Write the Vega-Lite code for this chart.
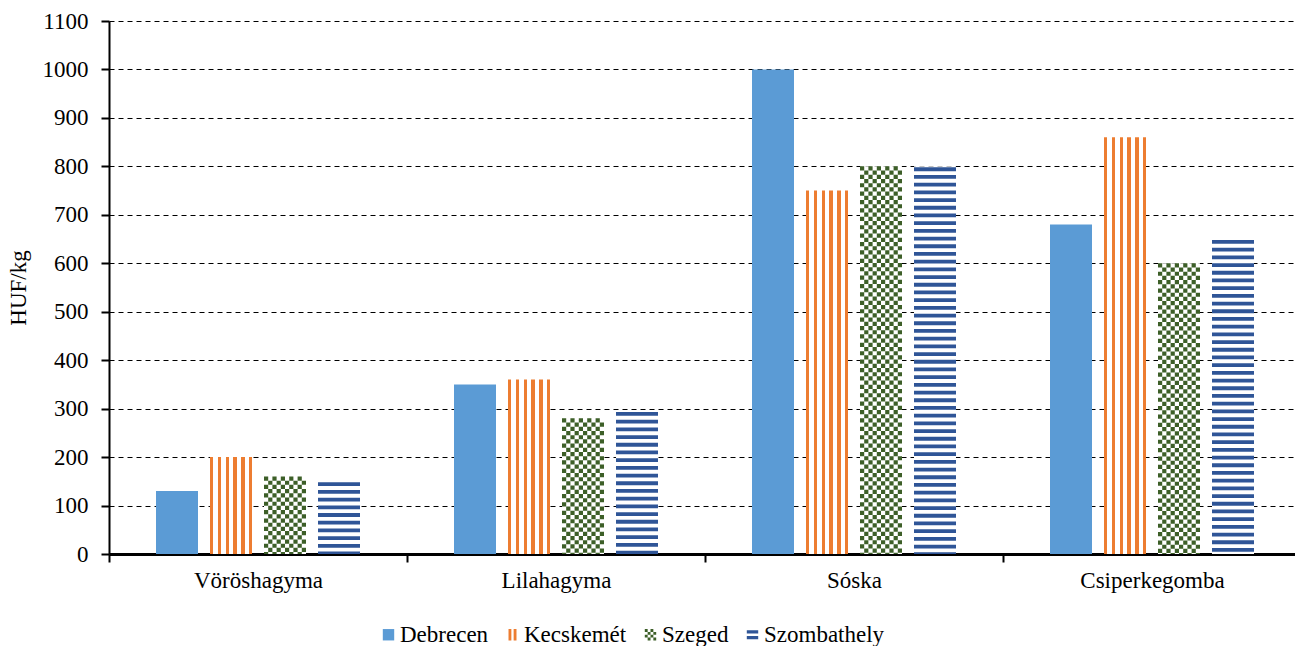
{
  "$schema": "https://vega.github.io/schema/vega-lite/v6.json",
  "width": 1192,
  "height": 533,
  "autosize": {"type": "none"},
  "padding": {"left": 109, "top": 21, "right": 0, "bottom": 92},
  "background": "white",
  "config": {
    "font": "Liberation Serif, Times New Roman, serif",
    "view": {"stroke": null},
    "axis": {"labelFont": "Liberation Serif, Times New Roman, serif", "titleFont": "Liberation Serif, Times New Roman, serif", "labelColor": "black", "titleColor": "black"},
    "legend": {"labelFont": "Liberation Serif, Times New Roman, serif"}
  },
  "data": {
    "values": [
      {"termek": "Vöröshagyma", "varos": "Debrecen", "ar": 130},
      {"termek": "Vöröshagyma", "varos": "Kecskemét", "ar": 200},
      {"termek": "Vöröshagyma", "varos": "Szeged", "ar": 160},
      {"termek": "Vöröshagyma", "varos": "Szombathely", "ar": 150},
      {"termek": "Lilahagyma", "varos": "Debrecen", "ar": 350},
      {"termek": "Lilahagyma", "varos": "Kecskemét", "ar": 360},
      {"termek": "Lilahagyma", "varos": "Szeged", "ar": 280},
      {"termek": "Lilahagyma", "varos": "Szombathely", "ar": 295},
      {"termek": "Sóska", "varos": "Debrecen", "ar": 1000},
      {"termek": "Sóska", "varos": "Kecskemét", "ar": 750},
      {"termek": "Sóska", "varos": "Szeged", "ar": 800},
      {"termek": "Sóska", "varos": "Szombathely", "ar": 800},
      {"termek": "Csiperkegomba", "varos": "Debrecen", "ar": 680},
      {"termek": "Csiperkegomba", "varos": "Kecskemét", "ar": 860},
      {"termek": "Csiperkegomba", "varos": "Szeged", "ar": 600},
      {"termek": "Csiperkegomba", "varos": "Szombathely", "ar": 650}
    ]
  },
  "encoding": {
    "x": {
      "field": "termek", "type": "nominal",
      "sort": ["Vöröshagyma", "Lilahagyma", "Sóska", "Csiperkegomba"],
      "scale": {"paddingInner": 0, "paddingOuter": 0},
      "axis": {
        "title": null, "labelAngle": 0, "labelFontSize": 23, "labelPadding": 7,
        "labelFont": "Liberation Serif, Times New Roman, serif",
        "tickBand": "extent", "tickSize": 8, "tickWidth": 2, "tickColor": "black",
        "domainColor": "black", "domainWidth": 3, "grid": false
      }
    },
    "y": {
      "field": "ar", "type": "quantitative",
      "scale": {"domain": [0, 1100], "nice": false},
      "axis": {
        "title": "HUF/kg", "titleFontSize": 23, "titleFontWeight": "normal", "titlePadding": 12,
        "titleFont": "Liberation Serif, Times New Roman, serif",
        "labelFont": "Liberation Serif, Times New Roman, serif",
        "format": "d",
        "values": [0, 100, 200, 300, 400, 500, 600, 700, 800, 900, 1000, 1100],
        "labelFontSize": 23, "labelPadding": 13,
        "tickSize": 8, "tickWidth": 2, "tickColor": "black",
        "domainColor": "black", "domainWidth": 2,
        "grid": true, "gridColor": "black", "gridDash": [5, 4], "gridWidth": 1, "gridOpacity": 1
      }
    }
  },
  "layer": [
    {
      "transform": [{"filter": "datum.varos === 'Debrecen'"}],
      "mark": {"type": "bar", "width": 42, "xOffset": -81, "color": "#5B9BD5"}
    },
    {
      "transform": [{"filter": "datum.varos === 'Kecskemét'"}],
      "mark": {
        "type": "bar", "width": 42, "xOffset": -27,
        "color": {
          "gradient": "linear", "x1": 0, "y1": 0, "x2": 1, "y2": 0,
          "stops": [
            {"offset": 0, "color": "#ED7D31"}, {"offset": 0.08, "color": "#ED7D31"},
            {"offset": 0.08, "color": "#FFFFFF"}, {"offset": 0.186, "color": "#FFFFFF"},
            {"offset": 0.186, "color": "#ED7D31"}, {"offset": 0.266, "color": "#ED7D31"},
            {"offset": 0.266, "color": "#FFFFFF"}, {"offset": 0.372, "color": "#FFFFFF"},
            {"offset": 0.372, "color": "#ED7D31"}, {"offset": 0.452, "color": "#ED7D31"},
            {"offset": 0.452, "color": "#FFFFFF"}, {"offset": 0.558, "color": "#FFFFFF"},
            {"offset": 0.558, "color": "#ED7D31"}, {"offset": 0.638, "color": "#ED7D31"},
            {"offset": 0.638, "color": "#FFFFFF"}, {"offset": 0.744, "color": "#FFFFFF"},
            {"offset": 0.744, "color": "#ED7D31"}, {"offset": 0.824, "color": "#ED7D31"},
            {"offset": 0.824, "color": "#FFFFFF"}, {"offset": 0.92, "color": "#FFFFFF"},
            {"offset": 0.92, "color": "#ED7D31"}, {"offset": 1, "color": "#ED7D31"}
          ]
        }
      }
    },
    {
      "transform": [{"filter": "datum.varos === 'Szeged'"}],
      "mark": {"type": "bar", "width": 42, "xOffset": 27, "color": "white"}
    },
    {"transform": [{"filter": "datum.varos === 'Szeged'"}], "mark": {"type": "rule", "xOffset": 8.1, "strokeWidth": 4.2, "strokeDash": [4.2, 4.2], "strokeDashOffset": 0, "color": "#3D5F28", "strokeCap": "butt"}, "encoding": {"y2": {"datum": 0}}},
    {"transform": [{"filter": "datum.varos === 'Szeged'"}], "mark": {"type": "rule", "xOffset": 12.3, "strokeWidth": 4.2, "strokeDash": [4.2, 4.2], "strokeDashOffset": 4.2, "color": "#3D5F28", "strokeCap": "butt"}, "encoding": {"y2": {"datum": 0}}},
    {"transform": [{"filter": "datum.varos === 'Szeged'"}], "mark": {"type": "rule", "xOffset": 16.5, "strokeWidth": 4.2, "strokeDash": [4.2, 4.2], "strokeDashOffset": 0, "color": "#3D5F28", "strokeCap": "butt"}, "encoding": {"y2": {"datum": 0}}},
    {"transform": [{"filter": "datum.varos === 'Szeged'"}], "mark": {"type": "rule", "xOffset": 20.7, "strokeWidth": 4.2, "strokeDash": [4.2, 4.2], "strokeDashOffset": 4.2, "color": "#3D5F28", "strokeCap": "butt"}, "encoding": {"y2": {"datum": 0}}},
    {"transform": [{"filter": "datum.varos === 'Szeged'"}], "mark": {"type": "rule", "xOffset": 24.9, "strokeWidth": 4.2, "strokeDash": [4.2, 4.2], "strokeDashOffset": 0, "color": "#3D5F28", "strokeCap": "butt"}, "encoding": {"y2": {"datum": 0}}},
    {"transform": [{"filter": "datum.varos === 'Szeged'"}], "mark": {"type": "rule", "xOffset": 29.1, "strokeWidth": 4.2, "strokeDash": [4.2, 4.2], "strokeDashOffset": 4.2, "color": "#3D5F28", "strokeCap": "butt"}, "encoding": {"y2": {"datum": 0}}},
    {"transform": [{"filter": "datum.varos === 'Szeged'"}], "mark": {"type": "rule", "xOffset": 33.3, "strokeWidth": 4.2, "strokeDash": [4.2, 4.2], "strokeDashOffset": 0, "color": "#3D5F28", "strokeCap": "butt"}, "encoding": {"y2": {"datum": 0}}},
    {"transform": [{"filter": "datum.varos === 'Szeged'"}], "mark": {"type": "rule", "xOffset": 37.5, "strokeWidth": 4.2, "strokeDash": [4.2, 4.2], "strokeDashOffset": 4.2, "color": "#3D5F28", "strokeCap": "butt"}, "encoding": {"y2": {"datum": 0}}},
    {"transform": [{"filter": "datum.varos === 'Szeged'"}], "mark": {"type": "rule", "xOffset": 41.7, "strokeWidth": 4.2, "strokeDash": [4.2, 4.2], "strokeDashOffset": 0, "color": "#3D5F28", "strokeCap": "butt"}, "encoding": {"y2": {"datum": 0}}},
    {"transform": [{"filter": "datum.varos === 'Szeged'"}], "mark": {"type": "rule", "xOffset": 45.9, "strokeWidth": 4.2, "strokeDash": [4.2, 4.2], "strokeDashOffset": 4.2, "color": "#3D5F28", "strokeCap": "butt"}, "encoding": {"y2": {"datum": 0}}},
    {
      "transform": [{"filter": "datum.varos === 'Szombathely'"}],
      "mark": {"type": "bar", "width": 42, "xOffset": 81, "color": "white"}
    },
    {
      "transform": [{"filter": "datum.varos === 'Szombathely'"}],
      "mark": {"type": "rule", "xOffset": 81, "strokeWidth": 42, "strokeDash": [3.8, 3.9], "strokeDashOffset": -1, "color": "#2F5597", "strokeCap": "butt"},
      "encoding": {"y2": {"datum": 0}}
    },
    {
      "mark": {"type": "point", "filled": true, "opacity": 0},
      "encoding": {
        "color": {
          "field": "varos", "type": "nominal",
          "scale": {"domain": ["Debrecen", "Kecskemét", "Szeged", "Szombathely"], "range": ["#5B9BD5", "#ED7D31", "#3D5F28", "#2F5597"]},
          "legend": {
            "title": null, "orient": "none", "legendX": 268, "legendY": 602, "direction": "horizontal",
            "symbolSize": 130, "symbolOpacity": 1, "symbolStrokeWidth": 0,
            "labelFont": "Liberation Serif, Times New Roman, serif", "labelFontSize": 23, "labelColor": "black",
            "labelOffset": 0, "columnPadding": 12
          }
        },
        "shape": {
          "field": "varos", "type": "nominal",
          "scale": {
            "domain": ["Debrecen", "Kecskemét", "Szeged", "Szombathely"],
            "range": [
              "square",
              "M-0.7,-1h0.5v2h-0.5z M0.2,-1h0.5v2h-0.5z",
              "M-1,-1h0.5v0.5h-0.5z M0,-1h0.5v0.5h-0.5z M-0.5,-0.5h0.5v0.5h-0.5z M0.5,-0.5h0.5v0.5h-0.5z M-1,0h0.5v0.5h-0.5z M0,0h0.5v0.5h-0.5z M-0.5,0.5h0.5v0.5h-0.5z M0.5,0.5h0.5v0.5h-0.5z",
              "M-1,-0.8h2v0.6h-2z M-1,0.2h2v0.6h-2z"
            ]
          },
          "legend": {
            "title": null, "orient": "none", "legendX": 268, "legendY": 602, "direction": "horizontal",
            "symbolSize": 130, "symbolOpacity": 1, "symbolStrokeWidth": 0,
            "labelFont": "Liberation Serif, Times New Roman, serif", "labelFontSize": 23, "labelColor": "black",
            "labelOffset": 0, "columnPadding": 12
          }
        }
      }
    }
  ]
}
